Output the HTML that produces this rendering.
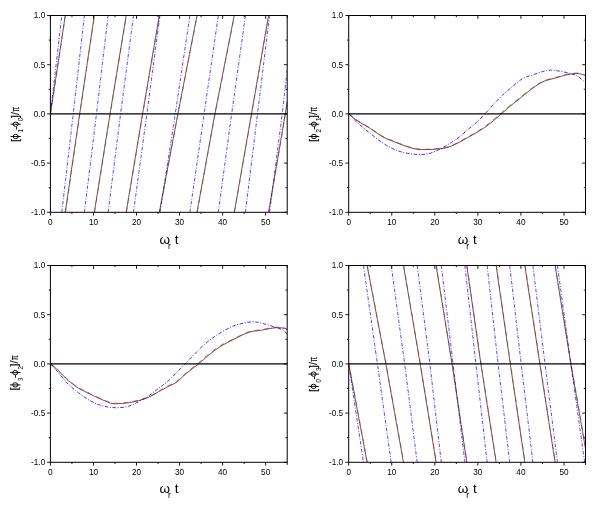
<!DOCTYPE html>
<html><head><meta charset="utf-8"><title>phase plots</title>
<style>html,body{margin:0;padding:0;background:#fff}body{width:595px;height:507px;overflow:hidden;font-family:"Liberation Sans",sans-serif}</style></head>
<body>
<svg width="595" height="507" viewBox="0 0 595 507" style="display:block;will-change:transform">
<rect width="595" height="507" fill="#fff"/>
<g>
<clipPath id="c0"><rect x="50.40" y="15.50" width="236.80" height="196.80"/></clipPath>
<g clip-path="url(#c0)">
<polyline points="50.40,113.90 51.26,106.47 52.12,99.05 52.98,91.62 53.84,84.19 54.71,76.77 55.57,69.34 56.43,61.92 57.29,54.49 58.15,47.06 59.01,39.64 59.87,32.21 60.73,24.78 61.59,17.36 61.81,15.50" stroke="#0000ff" stroke-width="0.7" fill="none" stroke-dasharray="3.6 1.6 1 1.6"/>
<polyline points="61.81,212.30 62.56,205.80 63.42,198.38 64.29,190.95 65.15,183.52 66.01,176.10 66.87,168.67 67.73,161.24 68.59,153.82 69.45,146.39 70.31,138.96 71.17,131.54 72.03,124.11 72.90,116.68 73.76,109.17 74.62,101.60 75.48,94.03 76.34,86.46 77.20,78.89 78.06,71.32 78.92,63.75 79.78,56.18 80.65,48.62 81.51,41.05 82.37,33.48 83.23,25.91 84.09,18.34 84.41,15.50" stroke="#0000ff" stroke-width="0.7" fill="none" stroke-dasharray="3.6 1.6 1 1.6"/>
<polyline points="84.41,212.30 85.17,206.15 86.03,199.12 86.89,192.09 87.75,185.06 88.61,178.04 89.47,171.01 90.33,163.98 91.19,156.95 92.06,149.92 92.92,142.89 93.78,135.86 94.64,128.84 95.50,121.81 96.36,114.78 97.22,107.52 98.08,100.23 98.94,92.94 99.81,85.66 100.67,78.37 101.53,71.08 102.39,63.79 103.25,56.50 104.11,49.21 104.97,41.92 105.83,34.63 106.69,27.34 107.55,20.06 108.09,15.50" stroke="#0000ff" stroke-width="0.7" fill="none" stroke-dasharray="3.6 1.6 1 1.6"/>
<polyline points="108.09,212.30 108.85,206.36 109.71,199.58 110.57,192.79 111.43,186.00 112.29,179.22 113.15,172.43 114.01,165.64 114.87,158.86 115.74,152.07 116.60,145.29 117.46,138.50 118.32,131.71 119.18,124.93 120.04,118.14 120.90,111.44 121.76,104.88 122.62,98.32 123.49,91.76 124.35,85.20 125.21,78.64 126.07,72.08 126.93,65.52 127.79,58.96 128.65,52.40 129.51,45.84 130.37,39.28 131.23,32.72 132.10,26.16 132.96,19.60 133.50,15.50" stroke="#0000ff" stroke-width="0.7" fill="none" stroke-dasharray="3.6 1.6 1 1.6"/>
<polyline points="133.50,212.30 134.25,206.75 135.11,200.40 135.97,194.05 136.83,187.70 137.69,181.35 138.55,175.00 139.42,168.65 140.28,162.31 141.14,155.96 142.00,149.61 142.86,143.26 143.72,136.91 144.58,130.56 145.44,124.22 146.30,117.87 147.17,111.48 148.03,105.03 148.89,98.58 149.75,92.12 150.61,85.67 151.47,79.22 152.33,72.77 153.19,66.31 154.05,59.86 154.91,53.41 155.78,46.96 156.64,40.50 157.50,34.05 158.36,27.60 159.22,21.15 159.97,15.50" stroke="#0000ff" stroke-width="0.7" fill="none" stroke-dasharray="3.6 1.6 1 1.6"/>
<polyline points="159.97,212.30 160.73,207.45 161.59,201.91 162.45,196.36 163.31,190.82 164.17,185.27 165.03,179.73 165.89,174.19 166.75,168.64 167.62,163.10 168.48,157.56 169.34,152.01 170.20,146.47 171.06,140.93 171.92,135.38 172.78,129.84 173.64,124.29 174.50,118.75 175.37,113.18 176.23,107.39 177.09,101.60 177.95,95.81 178.81,90.02 179.67,84.24 180.53,78.45 181.39,72.66 182.25,66.87 183.12,61.08 183.98,55.29 184.84,49.51 185.70,43.72 186.56,37.93 187.42,32.14 188.28,26.35 189.14,20.56 189.90,15.50" stroke="#0000ff" stroke-width="0.7" fill="none" stroke-dasharray="3.6 1.6 1 1.6"/>
<polyline points="189.90,212.30 190.65,207.08 191.51,201.12 192.37,195.15 193.23,189.19 194.09,183.23 194.96,177.26 195.82,171.30 196.68,165.34 197.54,159.37 198.40,153.41 199.26,147.45 200.12,141.48 200.98,135.52 201.84,129.55 202.71,123.59 203.57,117.63 204.43,111.66 205.29,105.70 206.15,99.74 207.01,93.77 207.87,87.81 208.73,81.85 209.59,75.88 210.46,69.92 211.32,63.95 212.18,57.99 213.04,52.03 213.90,46.06 214.76,40.10 215.62,34.14 216.48,28.17 217.34,22.21 218.21,16.25 218.31,15.50" stroke="#0000ff" stroke-width="0.7" fill="none" stroke-dasharray="3.6 1.6 1 1.6"/>
<polyline points="218.31,212.30 219.07,206.75 219.93,200.40 220.79,194.05 221.65,187.70 222.51,181.35 223.37,175.00 224.23,168.65 225.09,162.31 225.95,155.96 226.82,149.61 227.68,143.26 228.54,136.91 229.40,130.56 230.26,124.22 231.12,117.87 231.98,111.59 232.84,105.44 233.70,99.29 234.57,93.14 235.43,86.99 236.29,80.84 237.15,74.69 238.01,68.54 238.87,62.39 239.73,56.24 240.59,50.09 241.45,43.94 242.32,37.79 243.18,31.64 244.04,25.49 244.90,19.34 245.44,15.50" stroke="#0000ff" stroke-width="0.7" fill="none" stroke-dasharray="3.6 1.6 1 1.6"/>
<polyline points="245.44,212.30 246.19,206.15 247.05,199.12 247.91,192.09 248.77,185.06 249.63,178.04 250.50,171.01 251.36,163.98 252.22,156.95 253.08,149.92 253.94,142.89 254.80,135.86 255.66,128.84 256.52,121.81 257.38,114.78 258.25,107.75 259.11,100.72 259.97,93.69 260.83,86.66 261.69,79.64 262.55,72.61 263.41,65.58 264.27,58.55 265.13,51.52 266.00,44.49 266.86,37.46 267.72,30.44 268.58,23.41 269.44,16.38 269.55,15.50" stroke="#0000ff" stroke-width="0.7" fill="none" stroke-dasharray="3.6 1.6 1 1.6"/>
<polyline points="269.55,212.30 270.30,206.46 271.16,199.79 272.02,193.12 272.88,186.45 273.75,179.78 274.61,173.11 275.47,166.44 276.33,159.76 277.19,153.09 278.05,146.42 278.91,139.75 279.77,133.08 280.63,126.41 281.50,119.74 282.36,112.94 283.22,105.24 284.08,97.54 284.94,89.83 285.80,82.13 286.66,74.43 287.20,69.62" stroke="#0000ff" stroke-width="0.7" fill="none" stroke-dasharray="3.6 1.6 1 1.6"/>
<polyline points="50.40,113.90 51.26,108.20 52.12,102.49 52.98,96.79 53.84,91.08 54.71,85.38 55.57,79.67 56.43,73.97 57.29,68.27 58.15,62.56 59.01,56.86 59.87,51.15 60.73,45.45 61.59,39.74 62.46,34.04 63.32,28.33 64.18,22.63 65.04,16.93 65.25,15.50" stroke="#000" stroke-width="0.65" fill="none"/>
<polyline points="65.25,212.30 66.01,207.16 66.87,201.29 67.73,195.41 68.59,189.54 69.45,183.66 70.31,177.79 71.17,171.91 72.03,166.04 72.90,160.16 73.76,154.29 74.62,148.41 75.48,142.54 76.34,136.66 77.20,130.79 78.06,124.91 78.92,119.04 79.78,113.18 80.65,107.39 81.51,101.60 82.37,95.81 83.23,90.02 84.09,84.24 84.95,78.45 85.81,72.66 86.67,66.87 87.53,61.08 88.40,55.29 89.26,49.51 90.12,43.72 90.98,37.93 91.84,32.14 92.70,26.35 93.56,20.56 94.32,15.50" stroke="#000" stroke-width="0.65" fill="none"/>
<polyline points="94.32,212.30 95.07,207.58 95.93,202.19 96.79,196.80 97.65,191.41 98.51,186.02 99.37,180.62 100.24,175.23 101.10,169.84 101.96,164.45 102.82,159.06 103.68,153.66 104.54,148.27 105.40,142.88 106.26,137.49 107.12,132.10 107.99,126.71 108.85,121.31 109.71,115.92 110.57,110.62 111.43,105.37 112.29,100.12 113.15,94.88 114.01,89.63 114.87,84.38 115.74,79.13 116.60,73.88 117.46,68.64 118.32,63.39 119.18,58.14 120.04,52.89 120.90,47.64 121.76,42.40 122.62,37.15 123.49,31.90 124.35,26.65 125.21,21.40 126.07,16.16 126.18,15.50" stroke="#000" stroke-width="0.65" fill="none"/>
<polyline points="126.18,212.30 126.93,207.77 127.79,202.59 128.65,197.41 129.51,192.23 130.37,187.05 131.23,181.87 132.10,176.69 132.96,171.52 133.82,166.34 134.68,161.16 135.54,155.98 136.40,150.80 137.26,145.62 138.12,140.44 138.98,135.26 139.85,130.08 140.71,124.91 141.57,119.73 142.43,114.55 143.29,109.48 144.15,104.44 145.01,99.39 145.87,94.35 146.73,89.30 147.60,84.25 148.46,79.21 149.32,74.16 150.18,69.12 151.04,64.07 151.90,59.02 152.76,53.98 153.62,48.93 154.48,43.88 155.35,38.84 156.21,33.79 157.07,28.75 157.93,23.70 158.79,18.65 159.33,15.50" stroke="#000" stroke-width="0.65" fill="none"/>
<polyline points="159.33,212.30 160.08,208.30 160.94,203.72 161.80,199.14 162.66,194.57 163.53,189.99 164.39,185.41 165.25,180.83 166.11,176.26 166.97,171.68 167.83,167.10 168.69,162.53 169.55,157.95 170.41,153.37 171.28,148.80 172.14,144.22 173.00,139.64 173.86,135.07 174.72,130.49 175.58,125.91 176.44,121.34 177.30,116.76 178.16,112.24 179.03,107.82 179.89,103.40 180.75,98.97 181.61,94.55 182.47,90.13 183.33,85.71 184.19,81.28 185.05,76.86 185.91,72.44 186.78,68.02 187.64,63.59 188.50,59.17 189.36,54.75 190.22,50.33 191.08,45.90 191.94,41.48 192.80,37.06 193.66,32.64 194.53,28.21 195.39,23.79 196.25,19.37 197.00,15.50" stroke="#000" stroke-width="0.65" fill="none"/>
<polyline points="197.00,212.30 197.75,208.15 198.62,203.41 199.48,198.67 200.34,193.92 201.20,189.18 202.06,184.44 202.92,179.70 203.78,174.96 204.64,170.21 205.50,165.47 206.37,160.73 207.23,155.99 208.09,151.24 208.95,146.50 209.81,141.76 210.67,137.02 211.53,132.28 212.39,127.53 213.25,122.79 214.11,118.05 214.98,113.35 215.84,108.98 216.70,104.61 217.56,100.23 218.42,95.86 219.28,91.49 220.14,87.11 221.00,82.74 221.86,78.37 222.73,73.99 223.59,69.62 224.45,65.25 225.31,60.87 226.17,56.50 227.03,52.13 227.89,47.75 228.75,43.38 229.61,39.01 230.48,34.63 231.34,30.26 232.20,25.89 233.06,21.51 233.92,17.14 234.24,15.50" stroke="#000" stroke-width="0.65" fill="none"/>
<polyline points="234.24,212.30 235.00,208.00 235.86,203.08 236.72,198.15 237.58,193.24 238.44,188.31 239.30,183.40 240.16,178.48 241.02,173.55 241.89,168.64 242.75,163.71 243.61,158.80 244.47,153.88 245.33,148.95 246.19,144.04 247.05,139.11 247.91,134.20 248.77,129.28 249.63,124.35 250.50,119.44 251.36,114.51 252.22,109.56 253.08,104.61 253.94,99.65 254.80,94.69 255.66,89.73 256.52,84.78 257.38,79.82 258.25,74.86 259.11,69.91 259.97,64.95 260.83,59.99 261.69,55.03 262.55,50.08 263.41,45.12 264.27,40.16 265.13,35.20 266.00,30.25 266.86,25.29 267.72,20.33 268.56,15.50" stroke="#000" stroke-width="0.65" fill="none"/>
<polyline points="268.56,212.30 269.33,207.74 270.19,202.66 271.05,197.59 271.92,192.52 272.78,187.45 273.64,182.37 274.50,177.30 275.36,172.23 276.22,167.16 277.08,162.09 277.94,157.01 278.80,151.94 279.67,146.87 280.53,141.80 281.39,136.72 282.25,131.65 283.11,126.58 283.97,121.51 284.83,116.44 285.69,111.06 286.55,105.37 287.20,101.11" stroke="#000" stroke-width="0.65" fill="none"/>
<polyline points="50.65,113.90 51.51,108.20 52.37,102.49 53.23,96.79 54.09,91.08 54.96,85.38 55.82,79.67 56.68,73.97 57.54,68.27 58.40,62.56 59.26,56.86 60.12,51.15 60.98,45.45 61.84,39.74 62.71,34.04 63.57,28.33 64.43,22.63 65.29,16.93 65.50,15.50" stroke="#d81414" stroke-width="0.55" fill="none" stroke-dasharray="5 4.5"/>
<polyline points="65.50,212.30 66.26,207.16 67.12,201.29 67.98,195.41 68.84,189.54 69.70,183.66 70.56,177.79 71.42,171.91 72.28,166.04 73.15,160.16 74.01,154.29 74.87,148.41 75.73,142.54 76.59,136.66 77.45,130.79 78.31,124.91 79.17,119.04 80.03,113.18 80.90,107.39 81.76,101.60 82.62,95.81 83.48,90.02 84.34,84.24 85.20,78.45 86.06,72.66 86.92,66.87 87.78,61.08 88.65,55.29 89.51,49.51 90.37,43.72 91.23,37.93 92.09,32.14 92.95,26.35 93.81,20.56 94.57,15.50" stroke="#d81414" stroke-width="0.55" fill="none" stroke-dasharray="5 4.5"/>
<polyline points="94.57,212.30 95.32,207.58 96.18,202.19 97.04,196.80 97.90,191.41 98.76,186.02 99.62,180.62 100.49,175.23 101.35,169.84 102.21,164.45 103.07,159.06 103.93,153.66 104.79,148.27 105.65,142.88 106.51,137.49 107.37,132.10 108.24,126.71 109.10,121.31 109.96,115.92 110.82,110.62 111.68,105.37 112.54,100.12 113.40,94.88 114.26,89.63 115.12,84.38 115.99,79.13 116.85,73.88 117.71,68.64 118.57,63.39 119.43,58.14 120.29,52.89 121.15,47.64 122.01,42.40 122.87,37.15 123.74,31.90 124.60,26.65 125.46,21.40 126.32,16.16 126.43,15.50" stroke="#d81414" stroke-width="0.55" fill="none" stroke-dasharray="5 4.5"/>
<polyline points="126.43,212.30 127.18,207.77 128.04,202.59 128.90,197.41 129.76,192.23 130.62,187.05 131.48,181.87 132.35,176.69 133.21,171.52 134.07,166.34 134.93,161.16 135.79,155.98 136.65,150.80 137.51,145.62 138.37,140.44 139.23,135.26 140.10,130.08 140.96,124.91 141.82,119.73 142.68,114.55 143.54,109.48 144.40,104.44 145.26,99.39 146.12,94.35 146.98,89.30 147.85,84.25 148.71,79.21 149.57,74.16 150.43,69.12 151.29,64.07 152.15,59.02 153.01,53.98 153.87,48.93 154.73,43.88 155.60,38.84 156.46,33.79 157.32,28.75 158.18,23.70 159.04,18.65 159.58,15.50" stroke="#d81414" stroke-width="0.55" fill="none" stroke-dasharray="5 4.5"/>
<polyline points="159.58,212.30 160.33,208.30 161.19,203.72 162.05,199.14 162.91,194.57 163.78,189.99 164.64,185.41 165.50,180.83 166.36,176.26 167.22,171.68 168.08,167.10 168.94,162.53 169.80,157.95 170.66,153.37 171.53,148.80 172.39,144.22 173.25,139.64 174.11,135.07 174.97,130.49 175.83,125.91 176.69,121.34 177.55,116.76 178.41,112.24 179.28,107.82 180.14,103.40 181.00,98.97 181.86,94.55 182.72,90.13 183.58,85.71 184.44,81.28 185.30,76.86 186.16,72.44 187.03,68.02 187.89,63.59 188.75,59.17 189.61,54.75 190.47,50.33 191.33,45.90 192.19,41.48 193.05,37.06 193.91,32.64 194.78,28.21 195.64,23.79 196.50,19.37 197.25,15.50" stroke="#d81414" stroke-width="0.55" fill="none" stroke-dasharray="5 4.5"/>
<polyline points="197.25,212.30 198.00,208.15 198.87,203.41 199.73,198.67 200.59,193.92 201.45,189.18 202.31,184.44 203.17,179.70 204.03,174.96 204.89,170.21 205.75,165.47 206.62,160.73 207.48,155.99 208.34,151.24 209.20,146.50 210.06,141.76 210.92,137.02 211.78,132.28 212.64,127.53 213.50,122.79 214.36,118.05 215.23,113.35 216.09,108.98 216.95,104.61 217.81,100.23 218.67,95.86 219.53,91.49 220.39,87.11 221.25,82.74 222.11,78.37 222.98,73.99 223.84,69.62 224.70,65.25 225.56,60.87 226.42,56.50 227.28,52.13 228.14,47.75 229.00,43.38 229.86,39.01 230.73,34.63 231.59,30.26 232.45,25.89 233.31,21.51 234.17,17.14 234.49,15.50" stroke="#d81414" stroke-width="0.55" fill="none" stroke-dasharray="5 4.5"/>
<polyline points="234.49,212.30 235.25,208.00 236.11,203.08 236.97,198.15 237.83,193.24 238.69,188.31 239.55,183.40 240.41,178.48 241.27,173.55 242.14,168.64 243.00,163.71 243.86,158.80 244.72,153.88 245.58,148.95 246.44,144.04 247.30,139.11 248.16,134.20 249.02,129.28 249.88,124.35 250.75,119.44 251.61,114.51 252.47,109.56 253.33,104.61 254.19,99.65 255.05,94.69 255.91,89.73 256.77,84.78 257.63,79.82 258.50,74.86 259.36,69.91 260.22,64.95 261.08,59.99 261.94,55.03 262.80,50.08 263.66,45.12 264.52,40.16 265.38,35.20 266.25,30.25 267.11,25.29 267.97,20.33 268.81,15.50" stroke="#d81414" stroke-width="0.55" fill="none" stroke-dasharray="5 4.5"/>
<polyline points="268.81,212.30 269.58,207.74 270.44,202.66 271.30,197.59 272.17,192.52 273.03,187.45 273.89,182.37 274.75,177.30 275.61,172.23 276.47,167.16 277.33,162.09 278.19,157.01 279.05,151.94 279.92,146.87 280.78,141.80 281.64,136.72 282.50,131.65 283.36,126.58 284.22,121.51 285.08,116.44 285.94,111.06 286.80,105.37 287.45,101.11" stroke="#d81414" stroke-width="0.55" fill="none" stroke-dasharray="5 4.5"/>
</g>
<line x1="50.40" y1="113.90" x2="287.20" y2="113.90" stroke="#000" stroke-width="1.15"/>
<rect x="50.40" y="15.50" width="236.80" height="196.80" fill="none" stroke="#000" stroke-width="1"/>
<path d="M50.40 212.30v3.30M50.40 15.50v3.30M71.93 212.30v1.70M71.93 15.50v1.70M93.45 212.30v3.30M93.45 15.50v3.30M114.98 212.30v1.70M114.98 15.50v1.70M136.51 212.30v3.30M136.51 15.50v3.30M158.04 212.30v1.70M158.04 15.50v1.70M179.56 212.30v3.30M179.56 15.50v3.30M201.09 212.30v1.70M201.09 15.50v1.70M222.62 212.30v3.30M222.62 15.50v3.30M244.15 212.30v1.70M244.15 15.50v1.70M265.67 212.30v3.30M265.67 15.50v3.30M287.20 212.30v2.60M287.20 15.50v2.60M50.40 212.30h-3.30M287.20 212.30h-3.30M50.40 187.70h-1.70M287.20 187.70h-1.70M50.40 163.10h-3.30M287.20 163.10h-3.30M50.40 138.50h-1.70M287.20 138.50h-1.70M50.40 113.90h-3.30M287.20 113.90h-3.30M50.40 89.30h-1.70M287.20 89.30h-1.70M50.40 64.70h-3.30M287.20 64.70h-3.30M50.40 40.10h-1.70M287.20 40.10h-1.70M50.40 15.50h-3.30M287.20 15.50h-3.30" stroke="#000" stroke-width="0.9" fill="none"/>
<text x="50.40" y="225.10" font-size="8.2" text-anchor="middle" font-family="Liberation Sans, sans-serif">0</text>
<text x="93.45" y="225.10" font-size="8.2" text-anchor="middle" font-family="Liberation Sans, sans-serif">10</text>
<text x="136.51" y="225.10" font-size="8.2" text-anchor="middle" font-family="Liberation Sans, sans-serif">20</text>
<text x="179.56" y="225.10" font-size="8.2" text-anchor="middle" font-family="Liberation Sans, sans-serif">30</text>
<text x="222.62" y="225.10" font-size="8.2" text-anchor="middle" font-family="Liberation Sans, sans-serif">40</text>
<text x="265.67" y="225.10" font-size="8.2" text-anchor="middle" font-family="Liberation Sans, sans-serif">50</text>
<text x="45.20" y="215.20" font-size="8.2" text-anchor="end" font-family="Liberation Sans, sans-serif">-1.0</text>
<text x="45.20" y="166.00" font-size="8.2" text-anchor="end" font-family="Liberation Sans, sans-serif">-0.5</text>
<text x="45.20" y="116.80" font-size="8.2" text-anchor="end" font-family="Liberation Sans, sans-serif">0.0</text>
<text x="45.20" y="67.60" font-size="8.2" text-anchor="end" font-family="Liberation Sans, sans-serif">0.5</text>
<text x="45.20" y="18.40" font-size="8.2" text-anchor="end" font-family="Liberation Sans, sans-serif">1.0</text>
<text x="159.40" y="244.30" font-size="13.5" font-family="Liberation Sans, sans-serif">ω<tspan font-size="8.4" dy="4.5" dx="-2.0">r</tspan><tspan dy="-4.5" dx="4.0">t</tspan></text>
<g transform="translate(18.60 141.30) rotate(-90)">
<text x="-0.7" y="0" font-size="10.8" font-family="Liberation Sans, sans-serif" stroke="#000" stroke-width="0.15">[</text>
<ellipse cx="4.80" cy="-2.95" rx="2.15" ry="2.55" fill="none" stroke="#000" stroke-width="0.95"/><line x1="4.80" y1="-8.1" x2="4.80" y2="2.3" stroke="#000" stroke-width="0.95"/>
<text x="8.7" y="4.4" font-size="6.3" font-family="Liberation Sans, sans-serif">1</text>
<text x="11.4" y="0" font-size="10.8" font-family="Liberation Sans, sans-serif" stroke="#000" stroke-width="0.15">-</text>
<ellipse cx="17.10" cy="-2.95" rx="2.15" ry="2.55" fill="none" stroke="#000" stroke-width="0.95"/><line x1="17.10" y1="-8.1" x2="17.10" y2="2.3" stroke="#000" stroke-width="0.95"/>
<text x="20.2" y="4.4" font-size="6.3" font-family="Liberation Sans, sans-serif">0</text>
<text x="23.3" y="0" font-size="10.8" font-family="Liberation Sans, sans-serif" stroke="#000" stroke-width="0.15">]</text>
<text x="26.3" y="0" font-size="10.8" font-family="Liberation Sans, sans-serif" stroke="#000" stroke-width="0.15">/</text>
<text transform="translate(29.5 0) scale(0.66 1)" x="0" y="0" font-size="10.8" font-family="Liberation Sans, sans-serif" stroke="#000" stroke-width="0.15">π</text>
</g>
</g>
<g>
<clipPath id="c1"><rect x="348.70" y="15.50" width="236.80" height="196.80"/></clipPath>
<g clip-path="url(#c1)">
<path d="M348.70 113.90C350.28 115.47 354.57 120.08 358.17 123.35C361.77 126.61 366.44 130.35 370.31 133.48C374.19 136.61 377.70 139.62 381.42 142.14C385.14 144.67 389.10 146.95 392.62 148.64C396.13 150.32 399.15 151.37 402.52 152.28C405.89 153.18 409.62 153.69 412.85 154.05C416.08 154.41 418.88 154.60 421.89 154.44C424.91 154.28 427.78 154.03 430.93 153.06C434.09 152.10 437.46 150.39 440.84 148.64C444.21 146.88 448.08 144.49 451.17 142.53C454.26 140.58 456.70 138.98 459.35 136.93C462.01 134.88 464.27 132.63 467.10 130.23C469.93 127.84 473.49 125.18 476.36 122.56C479.23 119.94 481.63 117.34 484.32 114.49C487.01 111.64 489.49 108.64 492.50 105.44C495.52 102.24 499.03 98.50 502.40 95.30C505.78 92.10 509.37 89.04 512.74 86.25C516.11 83.46 519.27 80.49 522.64 78.57C526.01 76.66 529.60 75.92 532.97 74.74C536.35 73.56 539.86 72.26 542.88 71.49C545.89 70.72 548.33 70.18 551.06 70.11C553.78 70.05 556.22 70.59 559.24 71.10C562.25 71.60 566.13 72.33 569.14 73.16C572.15 74.00 574.59 74.54 577.32 76.11C580.05 77.69 584.14 81.53 585.50 82.61" stroke="#0000ff" stroke-width="0.8" fill="none" stroke-dasharray="3.6 1.6 1 1.6"/>
<path d="M348.70 113.90C350.28 115.15 354.57 118.95 358.17 121.38C361.77 123.81 366.44 126.00 370.31 128.46C374.19 130.92 377.70 134.02 381.42 136.14C385.14 138.25 388.38 139.42 392.62 141.16C396.85 142.90 402.81 145.22 406.82 146.57C410.84 147.91 413.35 148.72 416.73 149.23C420.10 149.73 423.69 149.65 427.06 149.62C430.43 149.59 433.66 149.36 436.96 149.03C440.26 148.70 443.49 148.59 446.86 147.65C450.24 146.72 453.82 145.06 457.20 143.42C460.57 141.78 463.58 139.78 467.10 137.81C470.62 135.84 474.71 133.81 478.29 131.61C481.88 129.41 484.90 127.48 488.63 124.63C492.36 121.77 497.35 117.36 500.68 114.49C504.02 111.62 505.63 109.93 508.65 107.41C511.66 104.88 515.43 102.03 518.77 99.34C522.10 96.65 525.65 93.61 528.67 91.27C531.68 88.92 534.12 87.00 536.85 85.27C539.58 83.53 542.01 82.02 545.03 80.84C548.04 79.66 551.56 79.13 554.93 78.18C558.30 77.23 561.89 75.90 565.26 75.13C568.64 74.36 572.51 73.72 575.17 73.56C577.82 73.39 579.47 73.79 581.19 74.15C582.92 74.51 584.78 75.46 585.50 75.72" stroke="#000" stroke-width="0.65" fill="none"/>
<path d="M348.70 113.45C350.28 114.70 354.57 118.50 358.17 120.93C361.77 123.36 366.44 125.55 370.31 128.01C374.19 130.47 377.70 133.57 381.42 135.69C385.14 137.80 388.38 138.97 392.62 140.71C396.85 142.45 402.81 144.77 406.82 146.12C410.84 147.46 413.35 148.27 416.73 148.78C420.10 149.28 423.69 149.20 427.06 149.17C430.43 149.14 433.66 148.91 436.96 148.58C440.26 148.25 443.49 148.13 446.86 147.19C450.24 146.25 453.82 144.59 457.20 142.93C460.57 141.27 463.58 139.25 467.10 137.24C470.62 135.23 474.71 133.12 478.29 130.86C481.88 128.60 484.90 126.58 488.63 123.68C492.36 120.78 497.35 116.33 500.68 113.45C504.02 110.58 505.63 108.92 508.65 106.44C511.66 103.95 515.43 101.18 518.77 98.55C522.10 95.92 525.65 92.96 528.67 90.65C531.68 88.35 534.12 86.46 536.85 84.74C539.58 83.03 542.01 81.53 545.03 80.36C548.04 79.19 551.56 78.67 554.93 77.72C558.30 76.78 561.89 75.45 565.26 74.68C568.64 73.91 572.51 73.27 575.17 73.11C577.82 72.94 579.47 73.34 581.19 73.70C582.92 74.06 584.78 75.01 585.50 75.27" stroke="#d81414" stroke-width="0.7" fill="none" stroke-dasharray="5 4.5"/>
</g>
<line x1="348.70" y1="113.90" x2="585.50" y2="113.90" stroke="#000" stroke-width="1.15"/>
<rect x="348.70" y="15.50" width="236.80" height="196.80" fill="none" stroke="#000" stroke-width="1"/>
<path d="M348.70 212.30v3.30M348.70 15.50v3.30M370.23 212.30v1.70M370.23 15.50v1.70M391.75 212.30v3.30M391.75 15.50v3.30M413.28 212.30v1.70M413.28 15.50v1.70M434.81 212.30v3.30M434.81 15.50v3.30M456.34 212.30v1.70M456.34 15.50v1.70M477.86 212.30v3.30M477.86 15.50v3.30M499.39 212.30v1.70M499.39 15.50v1.70M520.92 212.30v3.30M520.92 15.50v3.30M542.45 212.30v1.70M542.45 15.50v1.70M563.97 212.30v3.30M563.97 15.50v3.30M585.50 212.30v2.60M585.50 15.50v2.60M348.70 212.30h-3.30M585.50 212.30h-3.30M348.70 187.70h-1.70M585.50 187.70h-1.70M348.70 163.10h-3.30M585.50 163.10h-3.30M348.70 138.50h-1.70M585.50 138.50h-1.70M348.70 113.90h-3.30M585.50 113.90h-3.30M348.70 89.30h-1.70M585.50 89.30h-1.70M348.70 64.70h-3.30M585.50 64.70h-3.30M348.70 40.10h-1.70M585.50 40.10h-1.70M348.70 15.50h-3.30M585.50 15.50h-3.30" stroke="#000" stroke-width="0.9" fill="none"/>
<text x="348.70" y="225.10" font-size="8.2" text-anchor="middle" font-family="Liberation Sans, sans-serif">0</text>
<text x="391.75" y="225.10" font-size="8.2" text-anchor="middle" font-family="Liberation Sans, sans-serif">10</text>
<text x="434.81" y="225.10" font-size="8.2" text-anchor="middle" font-family="Liberation Sans, sans-serif">20</text>
<text x="477.86" y="225.10" font-size="8.2" text-anchor="middle" font-family="Liberation Sans, sans-serif">30</text>
<text x="520.92" y="225.10" font-size="8.2" text-anchor="middle" font-family="Liberation Sans, sans-serif">40</text>
<text x="563.97" y="225.10" font-size="8.2" text-anchor="middle" font-family="Liberation Sans, sans-serif">50</text>
<text x="343.10" y="215.20" font-size="8.2" text-anchor="end" font-family="Liberation Sans, sans-serif">-1.0</text>
<text x="343.10" y="166.00" font-size="8.2" text-anchor="end" font-family="Liberation Sans, sans-serif">-0.5</text>
<text x="343.10" y="116.80" font-size="8.2" text-anchor="end" font-family="Liberation Sans, sans-serif">0.0</text>
<text x="343.10" y="67.60" font-size="8.2" text-anchor="end" font-family="Liberation Sans, sans-serif">0.5</text>
<text x="343.10" y="18.40" font-size="8.2" text-anchor="end" font-family="Liberation Sans, sans-serif">1.0</text>
<text x="457.70" y="244.30" font-size="13.5" font-family="Liberation Sans, sans-serif">ω<tspan font-size="8.4" dy="4.5" dx="-2.0">r</tspan><tspan dy="-4.5" dx="4.0">t</tspan></text>
<g transform="translate(316.90 141.30) rotate(-90)">
<text x="-0.7" y="0" font-size="10.8" font-family="Liberation Sans, sans-serif" stroke="#000" stroke-width="0.15">[</text>
<ellipse cx="4.80" cy="-2.95" rx="2.15" ry="2.55" fill="none" stroke="#000" stroke-width="0.95"/><line x1="4.80" y1="-8.1" x2="4.80" y2="2.3" stroke="#000" stroke-width="0.95"/>
<text x="8.7" y="4.4" font-size="6.3" font-family="Liberation Sans, sans-serif">2</text>
<text x="11.4" y="0" font-size="10.8" font-family="Liberation Sans, sans-serif" stroke="#000" stroke-width="0.15">-</text>
<ellipse cx="17.10" cy="-2.95" rx="2.15" ry="2.55" fill="none" stroke="#000" stroke-width="0.95"/><line x1="17.10" y1="-8.1" x2="17.10" y2="2.3" stroke="#000" stroke-width="0.95"/>
<text x="20.2" y="4.4" font-size="6.3" font-family="Liberation Sans, sans-serif">1</text>
<text x="23.3" y="0" font-size="10.8" font-family="Liberation Sans, sans-serif" stroke="#000" stroke-width="0.15">]</text>
<text x="26.3" y="0" font-size="10.8" font-family="Liberation Sans, sans-serif" stroke="#000" stroke-width="0.15">/</text>
<text transform="translate(29.5 0) scale(0.66 1)" x="0" y="0" font-size="10.8" font-family="Liberation Sans, sans-serif" stroke="#000" stroke-width="0.15">π</text>
</g>
</g>
<g>
<clipPath id="c2"><rect x="50.40" y="265.50" width="236.80" height="196.80"/></clipPath>
<g clip-path="url(#c2)">
<path d="M50.40 363.90C51.68 365.31 55.14 369.00 58.11 372.36C61.07 375.72 64.82 380.71 68.18 384.07C71.55 387.43 74.93 389.94 78.30 392.53C81.66 395.13 85.01 397.60 88.37 399.62C91.74 401.64 95.13 403.39 98.49 404.64C101.85 405.88 105.16 406.59 108.52 407.10C111.89 407.61 115.31 407.84 118.68 407.69C122.06 407.54 125.43 407.23 128.76 406.21C132.09 405.20 135.29 403.36 138.66 401.59C142.03 399.82 145.62 397.83 148.99 395.58C152.37 393.34 155.52 390.70 158.90 388.11C162.27 385.52 165.36 383.63 169.23 380.04C173.11 376.45 179.49 369.25 182.15 366.56C184.80 363.87 183.15 365.92 185.16 363.90C187.17 361.88 190.97 357.72 194.20 354.45C197.43 351.19 200.80 347.52 204.54 344.32C208.27 341.12 212.21 338.12 216.59 335.27C220.97 332.41 226.78 329.12 230.80 327.20C234.82 325.28 237.04 324.65 240.70 323.75C244.36 322.85 249.02 321.82 252.76 321.78C256.49 321.75 259.36 322.65 263.09 323.56C266.82 324.46 271.77 326.08 275.14 327.20C278.52 328.31 281.32 329.05 283.33 330.25C285.33 331.44 286.55 333.69 287.20 334.38" stroke="#0000ff" stroke-width="0.8" fill="none" stroke-dasharray="3.6 1.6 1 1.6"/>
<path d="M50.40 363.90C51.68 364.98 55.14 367.64 58.11 370.39C61.07 373.15 64.82 377.48 68.18 380.43C71.55 383.38 75.61 386.32 78.30 388.11C80.99 389.89 81.30 389.65 84.33 391.16C87.36 392.67 92.09 395.17 96.47 397.16C100.85 399.14 106.89 401.98 110.59 403.06C114.29 404.15 115.66 403.72 118.68 403.65C121.71 403.59 125.43 403.18 128.76 402.67C132.09 402.16 135.29 401.52 138.66 400.60C142.03 399.68 145.62 398.67 148.99 397.16C152.37 395.65 155.52 393.42 158.90 391.55C162.27 389.68 166.29 387.50 169.23 385.94C172.17 384.38 173.71 384.27 176.55 382.20C179.39 380.14 182.62 376.59 186.28 373.54C189.94 370.49 194.82 366.92 198.51 363.90C202.20 360.88 204.75 358.36 208.41 355.44C212.07 352.52 216.09 349.14 220.47 346.38C224.84 343.63 229.94 341.27 234.67 338.91C239.41 336.54 244.50 333.66 248.88 332.22C253.26 330.77 256.56 330.99 260.94 330.25C265.31 329.51 271.41 328.13 275.14 327.79C278.88 327.44 281.32 327.87 283.33 328.18C285.33 328.49 286.55 329.41 287.20 329.66" stroke="#000" stroke-width="0.65" fill="none"/>
<path d="M50.40 363.45C51.68 364.53 55.14 367.19 58.11 369.94C61.07 372.70 64.82 377.03 68.18 379.98C71.55 382.93 75.61 385.87 78.30 387.66C80.99 389.44 81.30 389.20 84.33 390.71C87.36 392.22 92.09 394.72 96.47 396.71C100.85 398.69 106.89 401.53 110.59 402.61C114.29 403.70 115.66 403.27 118.68 403.20C121.71 403.14 125.43 402.73 128.76 402.22C132.09 401.71 135.29 401.07 138.66 400.15C142.03 399.23 145.62 398.21 148.99 396.70C152.37 395.18 155.52 392.95 158.90 391.06C162.27 389.17 166.29 386.95 169.23 385.36C172.17 383.77 173.71 383.63 176.55 381.51C179.39 379.40 182.62 375.78 186.28 372.67C189.94 369.56 194.82 365.90 198.51 362.87C202.20 359.83 204.75 357.32 208.41 354.44C212.07 351.56 216.09 348.28 220.47 345.60C224.84 342.92 229.94 340.66 234.67 338.35C239.41 336.04 244.50 333.17 248.88 331.75C253.26 330.32 256.56 330.53 260.94 329.79C265.31 329.06 271.41 327.68 275.14 327.34C278.88 326.99 281.32 327.42 283.33 327.73C285.33 328.04 286.55 328.96 287.20 329.21" stroke="#d81414" stroke-width="0.7" fill="none" stroke-dasharray="5 4.5"/>
</g>
<line x1="50.40" y1="363.90" x2="287.20" y2="363.90" stroke="#000" stroke-width="1.15"/>
<rect x="50.40" y="265.50" width="236.80" height="196.80" fill="none" stroke="#000" stroke-width="1"/>
<path d="M50.40 462.30v3.30M50.40 265.50v3.30M71.93 462.30v1.70M71.93 265.50v1.70M93.45 462.30v3.30M93.45 265.50v3.30M114.98 462.30v1.70M114.98 265.50v1.70M136.51 462.30v3.30M136.51 265.50v3.30M158.04 462.30v1.70M158.04 265.50v1.70M179.56 462.30v3.30M179.56 265.50v3.30M201.09 462.30v1.70M201.09 265.50v1.70M222.62 462.30v3.30M222.62 265.50v3.30M244.15 462.30v1.70M244.15 265.50v1.70M265.67 462.30v3.30M265.67 265.50v3.30M287.20 462.30v2.60M287.20 265.50v2.60M50.40 462.30h-3.30M287.20 462.30h-3.30M50.40 437.70h-1.70M287.20 437.70h-1.70M50.40 413.10h-3.30M287.20 413.10h-3.30M50.40 388.50h-1.70M287.20 388.50h-1.70M50.40 363.90h-3.30M287.20 363.90h-3.30M50.40 339.30h-1.70M287.20 339.30h-1.70M50.40 314.70h-3.30M287.20 314.70h-3.30M50.40 290.10h-1.70M287.20 290.10h-1.70M50.40 265.50h-3.30M287.20 265.50h-3.30" stroke="#000" stroke-width="0.9" fill="none"/>
<text x="50.40" y="475.10" font-size="8.2" text-anchor="middle" font-family="Liberation Sans, sans-serif">0</text>
<text x="93.45" y="475.10" font-size="8.2" text-anchor="middle" font-family="Liberation Sans, sans-serif">10</text>
<text x="136.51" y="475.10" font-size="8.2" text-anchor="middle" font-family="Liberation Sans, sans-serif">20</text>
<text x="179.56" y="475.10" font-size="8.2" text-anchor="middle" font-family="Liberation Sans, sans-serif">30</text>
<text x="222.62" y="475.10" font-size="8.2" text-anchor="middle" font-family="Liberation Sans, sans-serif">40</text>
<text x="265.67" y="475.10" font-size="8.2" text-anchor="middle" font-family="Liberation Sans, sans-serif">50</text>
<text x="45.20" y="465.20" font-size="8.2" text-anchor="end" font-family="Liberation Sans, sans-serif">-1.0</text>
<text x="45.20" y="416.00" font-size="8.2" text-anchor="end" font-family="Liberation Sans, sans-serif">-0.5</text>
<text x="45.20" y="366.80" font-size="8.2" text-anchor="end" font-family="Liberation Sans, sans-serif">0.0</text>
<text x="45.20" y="317.60" font-size="8.2" text-anchor="end" font-family="Liberation Sans, sans-serif">0.5</text>
<text x="45.20" y="268.40" font-size="8.2" text-anchor="end" font-family="Liberation Sans, sans-serif">1.0</text>
<text x="159.40" y="493.10" font-size="13.5" font-family="Liberation Sans, sans-serif">ω<tspan font-size="8.4" dy="4.5" dx="-2.0">r</tspan><tspan dy="-4.5" dx="4.0">t</tspan></text>
<g transform="translate(18.20 389.70) rotate(-90)">
<text x="-0.7" y="0" font-size="10.8" font-family="Liberation Sans, sans-serif" stroke="#000" stroke-width="0.15">[</text>
<ellipse cx="4.80" cy="-2.95" rx="2.15" ry="2.55" fill="none" stroke="#000" stroke-width="0.95"/><line x1="4.80" y1="-8.1" x2="4.80" y2="2.3" stroke="#000" stroke-width="0.95"/>
<text x="8.7" y="4.4" font-size="6.3" font-family="Liberation Sans, sans-serif">3</text>
<text x="11.4" y="0" font-size="10.8" font-family="Liberation Sans, sans-serif" stroke="#000" stroke-width="0.15">-</text>
<ellipse cx="17.10" cy="-2.95" rx="2.15" ry="2.55" fill="none" stroke="#000" stroke-width="0.95"/><line x1="17.10" y1="-8.1" x2="17.10" y2="2.3" stroke="#000" stroke-width="0.95"/>
<text x="20.2" y="4.4" font-size="6.3" font-family="Liberation Sans, sans-serif">2</text>
<text x="23.3" y="0" font-size="10.8" font-family="Liberation Sans, sans-serif" stroke="#000" stroke-width="0.15">]</text>
<text x="26.3" y="0" font-size="10.8" font-family="Liberation Sans, sans-serif" stroke="#000" stroke-width="0.15">/</text>
<text transform="translate(29.5 0) scale(0.66 1)" x="0" y="0" font-size="10.8" font-family="Liberation Sans, sans-serif" stroke="#000" stroke-width="0.15">π</text>
</g>
</g>
<g>
<clipPath id="c3"><rect x="348.70" y="265.50" width="236.80" height="196.80"/></clipPath>
<g clip-path="url(#c3)">
<polyline points="348.70,363.90 349.56,369.64 350.42,375.38 351.28,381.11 352.14,386.85 353.01,392.59 353.87,398.33 354.73,404.06 355.59,409.80 356.45,415.54 357.31,421.28 358.17,427.01 359.03,432.75 359.89,438.49 360.76,444.23 361.62,449.96 362.48,455.70 363.34,461.44 363.47,462.30" stroke="#0000ff" stroke-width="0.7" fill="none" stroke-dasharray="3.6 1.6 1 1.6"/>
<polyline points="363.47,265.50 364.31,271.42 365.17,277.50 366.03,283.57 366.89,289.64 367.75,295.72 368.61,301.79 369.47,307.87 370.33,313.94 371.20,320.01 372.06,326.09 372.92,332.16 373.78,338.24 374.64,344.31 375.50,350.39 376.36,356.46 377.22,362.53 378.08,368.67 378.95,374.82 379.81,380.97 380.67,387.12 381.53,393.27 382.39,399.42 383.25,405.57 384.11,411.72 384.97,417.87 385.83,424.02 386.70,430.17 387.56,436.32 388.42,442.47 389.28,448.62 390.14,454.77 391.00,460.92 391.19,462.30" stroke="#0000ff" stroke-width="0.7" fill="none" stroke-dasharray="3.6 1.6 1 1.6"/>
<polyline points="391.19,265.50 391.97,271.16 392.83,277.45 393.69,283.73 394.55,290.02 395.41,296.31 396.28,302.60 397.14,308.88 398.00,315.17 398.86,321.46 399.72,327.75 400.58,334.03 401.44,340.32 402.30,346.61 403.16,352.90 404.03,359.18 404.89,365.60 405.75,372.38 406.61,379.17 407.47,385.96 408.33,392.74 409.19,399.53 410.05,406.31 410.91,413.10 411.77,419.89 412.64,426.67 413.50,433.46 414.36,440.24 415.22,447.03 416.08,453.82 416.94,460.60 417.16,462.30" stroke="#0000ff" stroke-width="0.7" fill="none" stroke-dasharray="3.6 1.6 1 1.6"/>
<polyline points="417.16,265.50 418.02,272.15 418.88,278.80 419.74,285.45 420.60,292.09 421.46,298.74 422.32,305.39 423.18,312.04 424.05,318.69 424.91,325.34 425.77,331.99 426.63,338.64 427.49,345.28 428.35,351.93 429.21,358.58 430.07,365.39 430.93,372.85 431.80,380.30 432.66,387.75 433.52,395.21 434.38,402.66 435.24,410.12 436.10,417.57 436.96,425.03 437.82,432.48 438.68,439.94 439.55,447.39 440.41,454.85 441.27,462.30" stroke="#0000ff" stroke-width="0.7" fill="none" stroke-dasharray="3.6 1.6 1 1.6"/>
<polyline points="441.27,265.50 442.13,272.66 442.99,279.81 443.85,286.97 444.71,294.13 445.57,301.28 446.43,308.44 447.29,315.59 448.16,322.75 449.02,329.91 449.88,337.06 450.74,344.22 451.60,351.38 452.46,358.53 453.32,365.70 454.18,372.91 455.04,380.12 455.91,387.33 456.77,394.54 457.63,401.75 458.49,408.95 459.35,416.16 460.21,423.37 461.07,430.58 461.93,437.79 462.79,445.00 463.66,452.21 464.52,459.42 464.86,462.30" stroke="#0000ff" stroke-width="0.7" fill="none" stroke-dasharray="3.6 1.6 1 1.6"/>
<polyline points="464.86,265.50 465.70,272.97 466.56,280.62 467.42,288.28 468.28,295.94 469.15,303.60 470.01,311.25 470.87,318.91 471.73,326.57 472.59,334.23 473.45,341.88 474.31,349.54 475.17,357.20 476.03,364.85 476.89,372.42 477.76,379.98 478.62,387.55 479.48,395.12 480.34,402.69 481.20,410.26 482.06,417.83 482.92,425.40 483.78,432.97 484.64,440.54 485.51,448.11 486.37,455.68 487.12,462.30" stroke="#0000ff" stroke-width="0.7" fill="none" stroke-dasharray="3.6 1.6 1 1.6"/>
<polyline points="487.12,265.50 487.98,273.22 488.84,280.94 489.70,288.65 490.56,296.37 491.43,304.09 492.29,311.81 493.15,319.52 494.01,327.24 494.87,334.96 495.73,342.68 496.59,350.39 497.45,358.11 498.31,365.72 499.18,373.01 500.04,380.30 500.90,387.59 501.76,394.88 502.62,402.17 503.48,409.46 504.34,416.74 505.20,424.03 506.06,431.32 506.93,438.61 507.79,445.90 508.65,453.19 509.51,460.48 509.72,462.30" stroke="#0000ff" stroke-width="0.7" fill="none" stroke-dasharray="3.6 1.6 1 1.6"/>
<polyline points="509.72,265.50 510.59,272.90 511.45,280.30 512.31,287.70 513.17,295.09 514.03,302.49 514.89,309.89 515.75,317.29 516.61,324.69 517.47,332.09 518.33,339.48 519.20,346.88 520.06,354.28 520.92,361.68 521.78,368.96 522.64,376.20 523.50,383.44 524.36,390.67 525.22,397.91 526.08,405.14 526.95,412.38 527.81,419.61 528.67,426.85 529.53,434.08 530.39,441.32 531.25,448.55 532.11,455.79 532.89,462.30" stroke="#0000ff" stroke-width="0.7" fill="none" stroke-dasharray="3.6 1.6 1 1.6"/>
<polyline points="532.89,265.50 533.73,272.30 534.59,279.28 535.45,286.26 536.31,293.24 537.17,300.22 538.03,307.20 538.89,314.18 539.75,321.16 540.62,328.13 541.48,335.11 542.34,342.09 543.20,349.07 544.06,356.05 544.92,363.03 545.78,369.88 546.64,376.71 547.50,383.55 548.37,390.38 549.23,397.21 550.09,404.05 550.95,410.88 551.81,417.71 552.67,424.55 553.53,431.38 554.39,438.21 555.25,445.05 556.12,451.88 556.98,458.71 557.43,462.30" stroke="#0000ff" stroke-width="0.7" fill="none" stroke-dasharray="3.6 1.6 1 1.6"/>
<polyline points="557.43,265.50 558.27,271.65 559.13,277.96 559.99,284.27 560.85,290.57 561.71,296.88 562.57,303.19 563.43,309.50 564.30,315.80 565.16,322.11 566.02,328.42 566.88,334.73 567.74,341.03 568.60,347.34 569.46,353.65 570.32,359.96 571.18,366.21 572.05,372.36 572.91,378.51 573.77,384.66 574.63,390.81 575.49,396.96 576.35,403.11 577.21,409.26 578.07,415.41 578.93,421.56 579.80,427.71 580.66,433.86 581.52,440.01 582.38,446.16 583.24,452.31 584.10,458.46 584.64,462.30" stroke="#0000ff" stroke-width="0.7" fill="none" stroke-dasharray="3.6 1.6 1 1.6"/>
<polyline points="584.64,265.50 585.39,270.67 585.50,271.40" stroke="#0000ff" stroke-width="0.7" fill="none" stroke-dasharray="3.6 1.6 1 1.6"/>
<polyline points="348.70,363.90 349.56,368.51 350.42,373.12 351.28,377.73 352.14,382.34 353.01,386.94 353.87,391.55 354.73,396.16 355.59,400.77 356.45,405.38 357.31,409.99 358.17,414.60 359.03,419.21 359.89,423.82 360.76,428.42 361.62,433.03 362.48,437.64 363.34,442.25 364.20,446.86 365.06,451.47 365.92,456.08 366.78,460.69 367.08,462.30" stroke="#000" stroke-width="0.65" fill="none"/>
<polyline points="367.08,265.50 367.86,269.56 368.72,274.08 369.58,278.59 370.44,283.10 371.30,287.62 372.16,292.13 373.03,296.64 373.89,301.16 374.75,305.67 375.61,310.19 376.47,314.70 377.33,319.21 378.19,323.73 379.05,328.24 379.91,332.76 380.78,337.27 381.64,341.78 382.50,346.30 383.36,350.81 384.22,355.32 385.08,359.84 385.94,364.38 386.80,369.19 387.66,374.00 388.53,378.82 389.39,383.63 390.25,388.44 391.11,393.25 391.97,398.06 392.83,402.88 393.69,407.69 394.55,412.50 395.41,417.31 396.28,422.12 397.14,426.93 398.00,431.75 398.86,436.56 399.72,441.37 400.58,446.18 401.44,450.99 402.30,455.80 403.16,460.62 403.46,462.30" stroke="#000" stroke-width="0.65" fill="none"/>
<polyline points="403.46,265.50 404.24,270.06 405.10,275.14 405.96,280.21 406.82,285.28 407.68,290.35 408.55,295.43 409.41,300.50 410.27,305.57 411.13,310.64 411.99,315.71 412.85,320.79 413.71,325.86 414.57,330.93 415.43,336.00 416.30,341.08 417.16,346.15 418.02,351.22 418.88,356.29 419.74,361.36 420.60,366.56 421.46,371.88 422.32,377.20 423.18,382.52 424.05,387.84 424.91,393.15 425.77,398.47 426.63,403.79 427.49,409.11 428.35,414.43 429.21,419.75 430.07,425.07 430.93,430.39 431.80,435.71 432.66,441.02 433.52,446.34 434.38,451.66 435.24,456.98 436.10,462.30" stroke="#000" stroke-width="0.65" fill="none"/>
<polyline points="436.10,265.50 436.96,270.82 437.82,276.14 438.68,281.46 439.55,286.78 440.41,292.09 441.27,297.41 442.13,302.73 442.99,308.05 443.85,313.37 444.71,318.69 445.57,324.01 446.43,329.33 447.29,334.65 448.16,339.96 449.02,345.28 449.88,350.60 450.74,355.92 451.60,361.24 452.46,366.78 453.32,372.53 454.18,378.29 455.04,384.04 455.91,389.79 456.77,395.55 457.63,401.30 458.49,407.06 459.35,412.81 460.21,418.57 461.07,424.32 461.93,430.08 462.79,435.83 463.66,441.58 464.52,447.34 465.38,453.09 466.24,458.85 466.75,462.30" stroke="#000" stroke-width="0.65" fill="none"/>
<polyline points="466.75,265.50 467.53,270.90 468.39,276.90 469.25,282.90 470.11,288.90 470.97,294.90 471.84,300.90 472.70,306.90 473.56,312.90 474.42,318.90 475.28,324.90 476.14,330.90 477.00,336.90 477.86,342.90 478.72,348.90 479.59,354.90 480.45,360.90 481.31,366.68 482.17,372.24 483.03,377.80 483.89,383.36 484.75,388.92 485.61,394.48 486.47,400.04 487.34,405.59 488.20,411.15 489.06,416.71 489.92,422.27 490.78,427.83 491.64,433.39 492.50,438.95 493.36,444.51 494.22,450.07 495.09,455.63 495.95,461.19 496.12,462.30" stroke="#000" stroke-width="0.65" fill="none"/>
<polyline points="496.12,265.50 496.92,271.03 497.78,277.01 498.64,283.00 499.50,288.98 500.36,294.96 501.22,300.94 502.08,306.92 502.94,312.91 503.80,318.89 504.67,324.87 505.53,330.85 506.39,336.83 507.25,342.81 508.11,348.80 508.97,354.78 509.83,360.76 510.69,366.67 511.55,372.51 512.41,378.35 513.28,384.19 514.14,390.03 515.00,395.87 515.86,401.71 516.72,407.55 517.58,413.39 518.44,419.23 519.30,425.07 520.16,430.91 521.03,436.75 521.89,442.59 522.75,448.43 523.61,454.27 524.47,460.11 524.79,462.30" stroke="#000" stroke-width="0.65" fill="none"/>
<polyline points="524.79,265.50 525.55,270.42 526.41,276.04 527.27,281.67 528.13,287.29 528.99,292.91 529.85,298.53 530.71,304.16 531.57,309.78 532.44,315.40 533.30,321.03 534.16,326.65 535.02,332.27 535.88,337.89 536.74,343.52 537.60,349.14 538.46,354.76 539.32,360.39 540.19,365.98 541.05,371.54 541.91,377.10 542.77,382.66 543.63,388.22 544.49,393.78 545.35,399.34 546.21,404.90 547.07,410.46 547.93,416.02 548.80,421.58 549.66,427.14 550.52,432.70 551.38,438.26 552.24,443.82 553.10,449.37 553.96,454.93 554.82,460.49 555.10,462.30" stroke="#000" stroke-width="0.65" fill="none"/>
<polyline points="555.10,265.50 555.90,270.47 556.76,275.85 557.62,281.23 558.48,286.60 559.34,291.98 560.21,297.36 561.07,302.74 561.93,308.11 562.79,313.49 563.65,318.87 564.51,324.24 565.37,329.62 566.23,335.00 567.09,340.38 567.96,345.75 568.82,351.13 569.68,356.51 570.54,361.88 571.40,367.01 572.26,371.99 573.12,376.97 573.98,381.94 574.84,386.92 575.71,391.90 576.57,396.88 577.43,401.86 578.29,406.83 579.15,411.81 580.01,416.79 580.87,421.77 581.73,426.75 582.59,431.72 583.45,436.70 584.32,441.68 585.18,446.66 585.50,448.52" stroke="#000" stroke-width="0.65" fill="none"/>
<polyline points="348.95,363.90 349.81,368.51 350.67,373.12 351.53,377.73 352.39,382.34 353.26,386.94 354.12,391.55 354.98,396.16 355.84,400.77 356.70,405.38 357.56,409.99 358.42,414.60 359.28,419.21 360.14,423.82 361.01,428.42 361.87,433.03 362.73,437.64 363.59,442.25 364.45,446.86 365.31,451.47 366.17,456.08 367.03,460.69 367.33,462.30" stroke="#d81414" stroke-width="0.55" fill="none" stroke-dasharray="5 4.5"/>
<polyline points="367.33,265.50 368.11,269.56 368.97,274.08 369.83,278.59 370.69,283.10 371.55,287.62 372.41,292.13 373.28,296.64 374.14,301.16 375.00,305.67 375.86,310.19 376.72,314.70 377.58,319.21 378.44,323.73 379.30,328.24 380.16,332.76 381.03,337.27 381.89,341.78 382.75,346.30 383.61,350.81 384.47,355.32 385.33,359.84 386.19,364.38 387.05,369.19 387.91,374.00 388.78,378.82 389.64,383.63 390.50,388.44 391.36,393.25 392.22,398.06 393.08,402.88 393.94,407.69 394.80,412.50 395.66,417.31 396.53,422.12 397.39,426.93 398.25,431.75 399.11,436.56 399.97,441.37 400.83,446.18 401.69,450.99 402.55,455.80 403.41,460.62 403.71,462.30" stroke="#d81414" stroke-width="0.55" fill="none" stroke-dasharray="5 4.5"/>
<polyline points="403.71,265.50 404.49,270.06 405.35,275.14 406.21,280.21 407.07,285.28 407.93,290.35 408.80,295.43 409.66,300.50 410.52,305.57 411.38,310.64 412.24,315.71 413.10,320.79 413.96,325.86 414.82,330.93 415.68,336.00 416.55,341.08 417.41,346.15 418.27,351.22 419.13,356.29 419.99,361.36 420.85,366.56 421.71,371.88 422.57,377.20 423.43,382.52 424.30,387.84 425.16,393.15 426.02,398.47 426.88,403.79 427.74,409.11 428.60,414.43 429.46,419.75 430.32,425.07 431.18,430.39 432.05,435.71 432.91,441.02 433.77,446.34 434.63,451.66 435.49,456.98 436.35,462.30" stroke="#d81414" stroke-width="0.55" fill="none" stroke-dasharray="5 4.5"/>
<polyline points="436.35,265.50 437.21,270.82 438.07,276.14 438.93,281.46 439.80,286.78 440.66,292.09 441.52,297.41 442.38,302.73 443.24,308.05 444.10,313.37 444.96,318.69 445.82,324.01 446.68,329.33 447.54,334.65 448.41,339.96 449.27,345.28 450.13,350.60 450.99,355.92 451.85,361.24 452.71,366.78 453.57,372.53 454.43,378.29 455.29,384.04 456.16,389.79 457.02,395.55 457.88,401.30 458.74,407.06 459.60,412.81 460.46,418.57 461.32,424.32 462.18,430.08 463.04,435.83 463.91,441.58 464.77,447.34 465.63,453.09 466.49,458.85 467.00,462.30" stroke="#d81414" stroke-width="0.55" fill="none" stroke-dasharray="5 4.5"/>
<polyline points="467.00,265.50 467.78,270.90 468.64,276.90 469.50,282.90 470.36,288.90 471.22,294.90 472.09,300.90 472.95,306.90 473.81,312.90 474.67,318.90 475.53,324.90 476.39,330.90 477.25,336.90 478.11,342.90 478.97,348.90 479.84,354.90 480.70,360.90 481.56,366.68 482.42,372.24 483.28,377.80 484.14,383.36 485.00,388.92 485.86,394.48 486.72,400.04 487.59,405.59 488.45,411.15 489.31,416.71 490.17,422.27 491.03,427.83 491.89,433.39 492.75,438.95 493.61,444.51 494.47,450.07 495.34,455.63 496.20,461.19 496.37,462.30" stroke="#d81414" stroke-width="0.55" fill="none" stroke-dasharray="5 4.5"/>
<polyline points="496.37,265.50 497.17,271.03 498.03,277.01 498.89,283.00 499.75,288.98 500.61,294.96 501.47,300.94 502.33,306.92 503.19,312.91 504.05,318.89 504.92,324.87 505.78,330.85 506.64,336.83 507.50,342.81 508.36,348.80 509.22,354.78 510.08,360.76 510.94,366.67 511.80,372.51 512.66,378.35 513.53,384.19 514.39,390.03 515.25,395.87 516.11,401.71 516.97,407.55 517.83,413.39 518.69,419.23 519.55,425.07 520.41,430.91 521.28,436.75 522.14,442.59 523.00,448.43 523.86,454.27 524.72,460.11 525.04,462.30" stroke="#d81414" stroke-width="0.55" fill="none" stroke-dasharray="5 4.5"/>
<polyline points="525.04,265.50 525.80,270.42 526.66,276.04 527.52,281.67 528.38,287.29 529.24,292.91 530.10,298.53 530.96,304.16 531.82,309.78 532.69,315.40 533.55,321.03 534.41,326.65 535.27,332.27 536.13,337.89 536.99,343.52 537.85,349.14 538.71,354.76 539.57,360.39 540.44,365.98 541.30,371.54 542.16,377.10 543.02,382.66 543.88,388.22 544.74,393.78 545.60,399.34 546.46,404.90 547.32,410.46 548.18,416.02 549.05,421.58 549.91,427.14 550.77,432.70 551.63,438.26 552.49,443.82 553.35,449.37 554.21,454.93 555.07,460.49 555.35,462.30" stroke="#d81414" stroke-width="0.55" fill="none" stroke-dasharray="5 4.5"/>
<polyline points="555.35,265.50 556.15,270.47 557.01,275.85 557.87,281.23 558.73,286.60 559.59,291.98 560.46,297.36 561.32,302.74 562.18,308.11 563.04,313.49 563.90,318.87 564.76,324.24 565.62,329.62 566.48,335.00 567.34,340.38 568.21,345.75 569.07,351.13 569.93,356.51 570.79,361.88 571.65,367.01 572.51,371.99 573.37,376.97 574.23,381.94 575.09,386.92 575.96,391.90 576.82,396.88 577.68,401.86 578.54,406.83 579.40,411.81 580.26,416.79 581.12,421.77 581.98,426.75 582.84,431.72 583.70,436.70 584.57,441.68 585.43,446.66 585.75,448.52" stroke="#d81414" stroke-width="0.55" fill="none" stroke-dasharray="5 4.5"/>
</g>
<line x1="348.70" y1="363.90" x2="585.50" y2="363.90" stroke="#000" stroke-width="1.15"/>
<rect x="348.70" y="265.50" width="236.80" height="196.80" fill="none" stroke="#000" stroke-width="1"/>
<path d="M348.70 462.30v3.30M348.70 265.50v3.30M370.23 462.30v1.70M370.23 265.50v1.70M391.75 462.30v3.30M391.75 265.50v3.30M413.28 462.30v1.70M413.28 265.50v1.70M434.81 462.30v3.30M434.81 265.50v3.30M456.34 462.30v1.70M456.34 265.50v1.70M477.86 462.30v3.30M477.86 265.50v3.30M499.39 462.30v1.70M499.39 265.50v1.70M520.92 462.30v3.30M520.92 265.50v3.30M542.45 462.30v1.70M542.45 265.50v1.70M563.97 462.30v3.30M563.97 265.50v3.30M585.50 462.30v2.60M585.50 265.50v2.60M348.70 462.30h-3.30M585.50 462.30h-3.30M348.70 437.70h-1.70M585.50 437.70h-1.70M348.70 413.10h-3.30M585.50 413.10h-3.30M348.70 388.50h-1.70M585.50 388.50h-1.70M348.70 363.90h-3.30M585.50 363.90h-3.30M348.70 339.30h-1.70M585.50 339.30h-1.70M348.70 314.70h-3.30M585.50 314.70h-3.30M348.70 290.10h-1.70M585.50 290.10h-1.70M348.70 265.50h-3.30M585.50 265.50h-3.30" stroke="#000" stroke-width="0.9" fill="none"/>
<text x="348.70" y="475.10" font-size="8.2" text-anchor="middle" font-family="Liberation Sans, sans-serif">0</text>
<text x="391.75" y="475.10" font-size="8.2" text-anchor="middle" font-family="Liberation Sans, sans-serif">10</text>
<text x="434.81" y="475.10" font-size="8.2" text-anchor="middle" font-family="Liberation Sans, sans-serif">20</text>
<text x="477.86" y="475.10" font-size="8.2" text-anchor="middle" font-family="Liberation Sans, sans-serif">30</text>
<text x="520.92" y="475.10" font-size="8.2" text-anchor="middle" font-family="Liberation Sans, sans-serif">40</text>
<text x="563.97" y="475.10" font-size="8.2" text-anchor="middle" font-family="Liberation Sans, sans-serif">50</text>
<text x="343.10" y="465.20" font-size="8.2" text-anchor="end" font-family="Liberation Sans, sans-serif">-1.0</text>
<text x="343.10" y="416.00" font-size="8.2" text-anchor="end" font-family="Liberation Sans, sans-serif">-0.5</text>
<text x="343.10" y="366.80" font-size="8.2" text-anchor="end" font-family="Liberation Sans, sans-serif">0.0</text>
<text x="343.10" y="317.60" font-size="8.2" text-anchor="end" font-family="Liberation Sans, sans-serif">0.5</text>
<text x="343.10" y="268.40" font-size="8.2" text-anchor="end" font-family="Liberation Sans, sans-serif">1.0</text>
<text x="457.70" y="493.10" font-size="13.5" font-family="Liberation Sans, sans-serif">ω<tspan font-size="8.4" dy="4.5" dx="-2.0">r</tspan><tspan dy="-4.5" dx="4.0">t</tspan></text>
<g transform="translate(316.50 391.20) rotate(-90)">
<text x="-0.7" y="0" font-size="10.8" font-family="Liberation Sans, sans-serif" stroke="#000" stroke-width="0.15">[</text>
<ellipse cx="4.80" cy="-2.95" rx="2.15" ry="2.55" fill="none" stroke="#000" stroke-width="0.95"/><line x1="4.80" y1="-8.1" x2="4.80" y2="2.3" stroke="#000" stroke-width="0.95"/>
<text x="8.7" y="4.4" font-size="6.3" font-family="Liberation Sans, sans-serif">0</text>
<text x="11.4" y="0" font-size="10.8" font-family="Liberation Sans, sans-serif" stroke="#000" stroke-width="0.15">-</text>
<ellipse cx="17.10" cy="-2.95" rx="2.15" ry="2.55" fill="none" stroke="#000" stroke-width="0.95"/><line x1="17.10" y1="-8.1" x2="17.10" y2="2.3" stroke="#000" stroke-width="0.95"/>
<text x="20.2" y="4.4" font-size="6.3" font-family="Liberation Sans, sans-serif">3</text>
<text x="23.3" y="0" font-size="10.8" font-family="Liberation Sans, sans-serif" stroke="#000" stroke-width="0.15">]</text>
<text x="26.3" y="0" font-size="10.8" font-family="Liberation Sans, sans-serif" stroke="#000" stroke-width="0.15">/</text>
<text transform="translate(29.5 0) scale(0.66 1)" x="0" y="0" font-size="10.8" font-family="Liberation Sans, sans-serif" stroke="#000" stroke-width="0.15">π</text>
</g>
</g>
</svg>
</body></html>
